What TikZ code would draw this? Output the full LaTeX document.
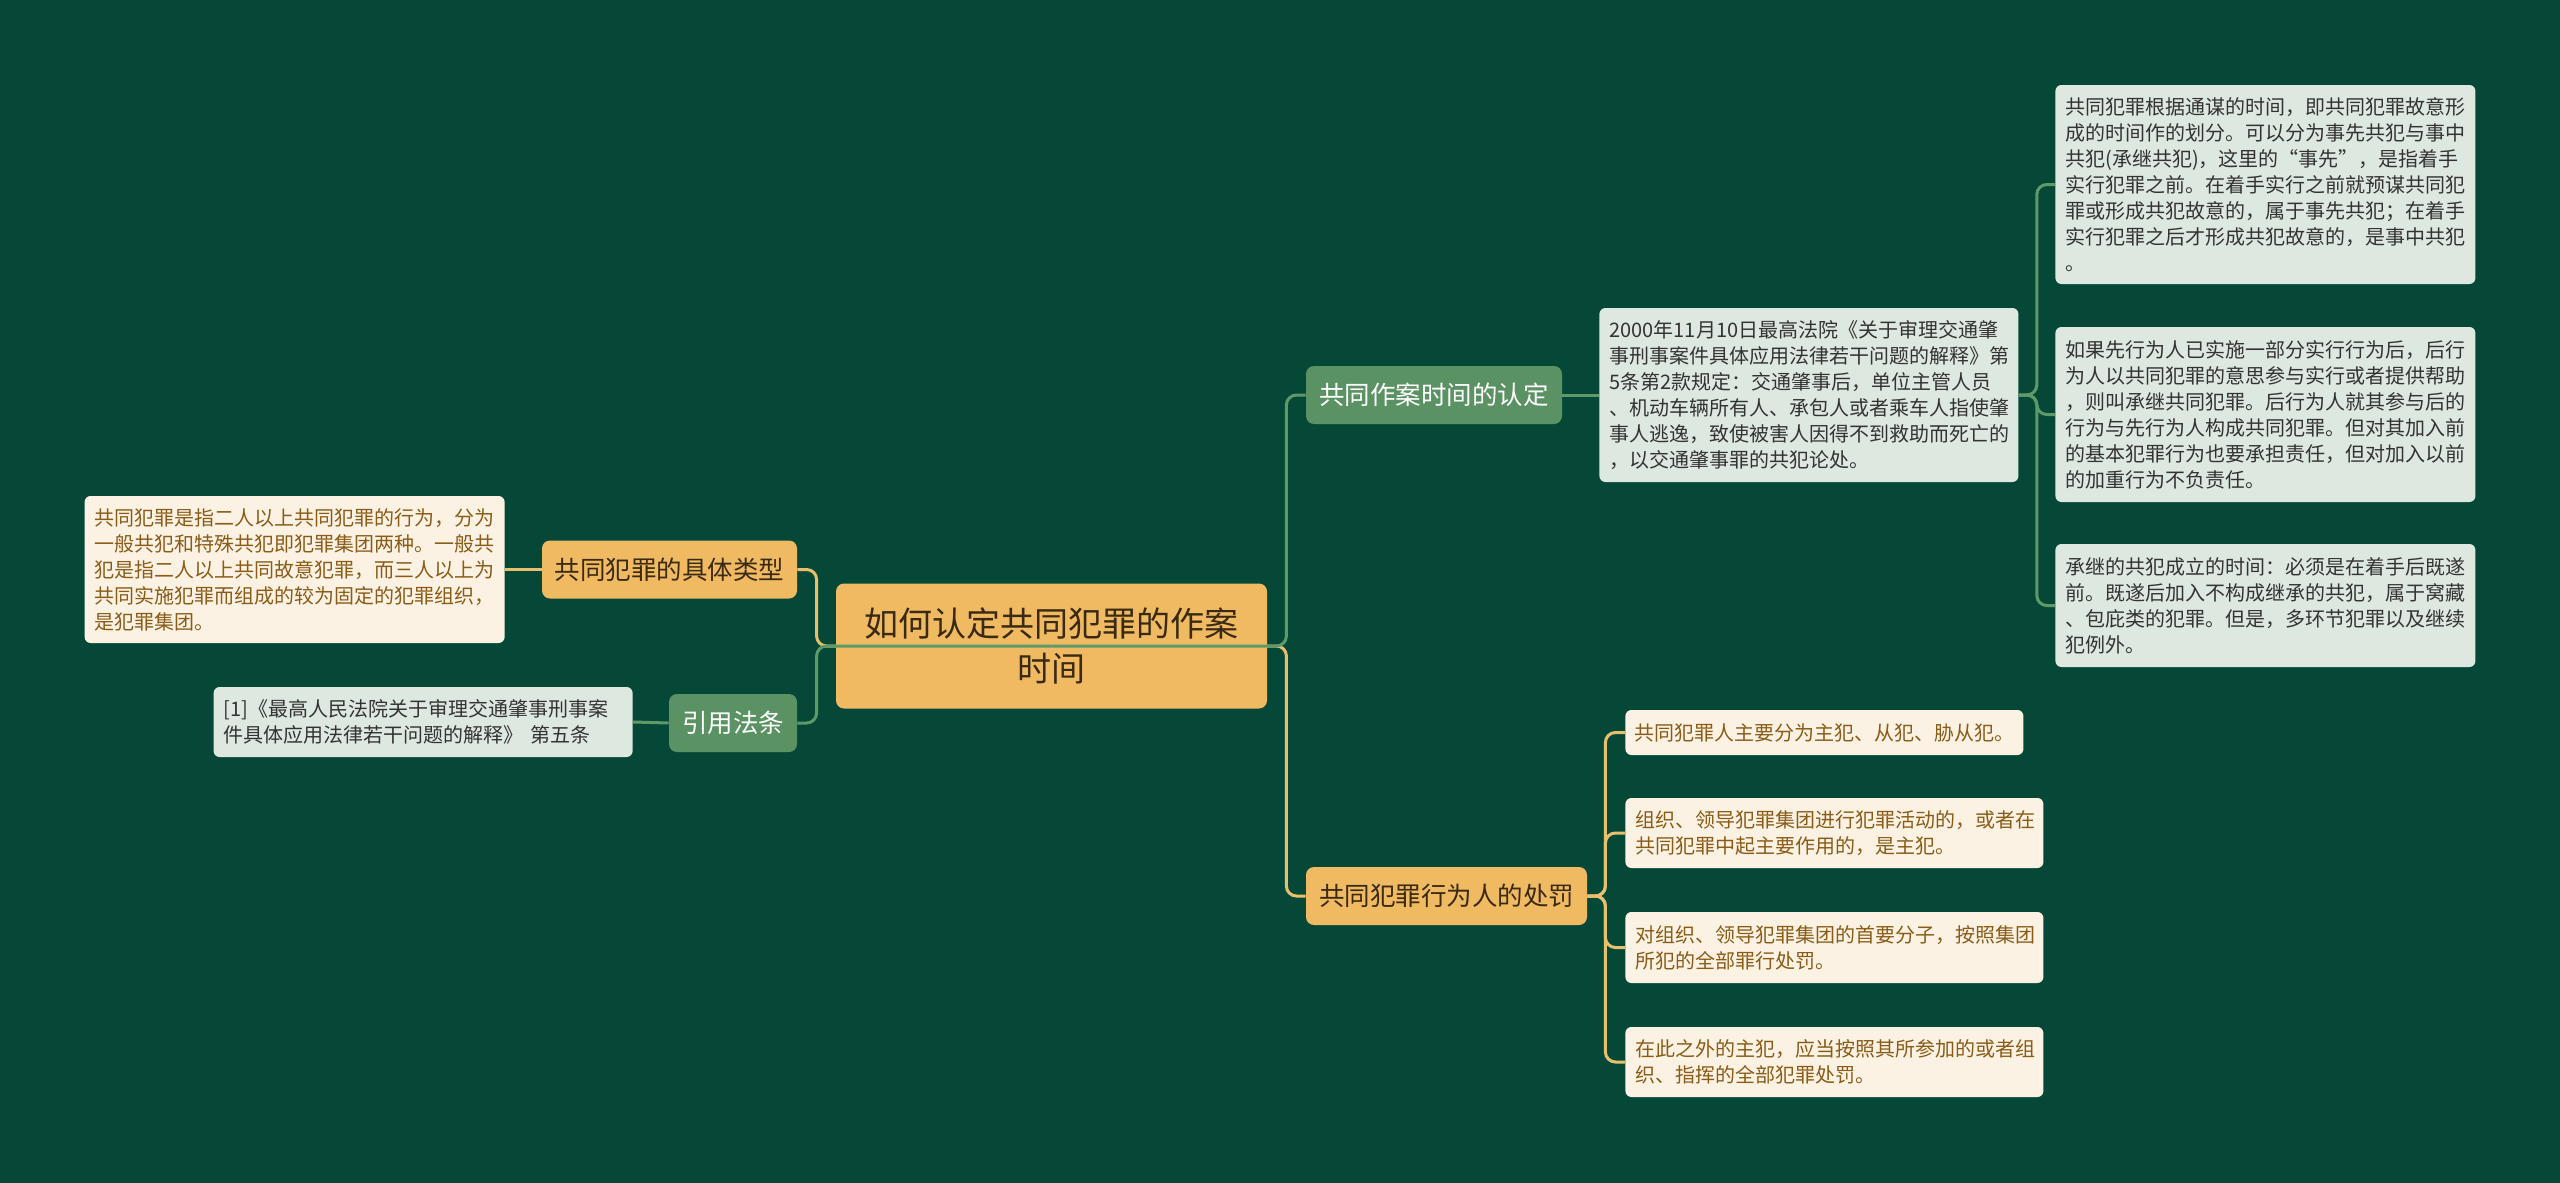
\documentclass[tikz,border=0pt]{standalone}
\usepackage{fontspec}
\setmainfont{Noto Sans CJK SC}
\usepackage{tikz}
\definecolor{bg}{HTML}{064838}
\definecolor{orangefill}{HTML}{F0BA62}
\definecolor{greenfill}{HTML}{5A9263}
\definecolor{palefill}{HTML}{DDE8E0}
\definecolor{creamfill}{HTML}{FCF2E3}
\definecolor{browntext}{HTML}{8A5C17}
\definecolor{darktext}{HTML}{3A2A12}
\definecolor{ylink}{HTML}{E6C06C}
\definecolor{glink}{HTML}{5E9A68}

\begin{document}
\begin{tikzpicture}[x=0.5pt,y=-0.5pt,
  box/.style={rounded corners=4pt,inner sep=0pt,align=center},
  rootbox/.style={box,fill=orangefill,text=darktext,minimum width=215.5pt,minimum height=62.5pt,font=\fontsize{17}{22.5}\selectfont},
  topicor/.style={box,fill=orangefill,text=darktext,minimum height=29pt,font=\fontsize{12.75}{15}\selectfont},
  topicgr/.style={box,fill=greenfill,text=white,minimum height=29pt,font=\fontsize{12.75}{15}\selectfont},
  leaf/.style={rounded corners=3pt,inner xsep=5pt,inner ysep=0pt,anchor=west,align=left,font=\fontsize{10}{13}\selectfont},
  leafpale/.style={leaf,fill=palefill,text=black!80},
  leafcream/.style={leaf,fill=creamfill,text=browntext},
  link/.style={line width=1.5pt,rounded corners=5pt}]
\fill[bg] (0,0) rectangle (2560,1183);
\useasboundingbox (0,0) rectangle (2560,1183);

% centre and main topics
\node[rootbox] (root) at (1051.5,646) {如何认定共同犯罪的作案\\时间};
\node[topicgr,minimum width=128pt] (ctime) at (1434,395) {共同作案时间的认定};
\node[topicor,minimum width=140.5pt] (punish) at (1446.5,896) {共同犯罪行为人的处罚};
\node[topicor,minimum width=127.5pt] (kind) at (669.5,569.5) {共同犯罪的具体类型};
\node[topicgr,minimum width=64pt] (cite) at (733,723) {引用法条};

% right side, time
\node[leafpale,text width=199.5pt,minimum height=87pt] (date) at (1599,395) {2000年11月10日最高法院《关于审理交通肇\\事刑事案件具体应用法律若干问题的解释》第\\5条第2款规定：交通肇事后，单位主管人员\\、机动车辆所有人、承包人或者乘车人指使肇\\事人逃逸，致使被害人因得不到救助而死亡的\\，以交通肇事罪的共犯论处。};
\node[leafpale,text width=200pt,minimum height=99.5pt] (la) at (2055,184.5) {共同犯罪根据通谋的时间，即共同犯罪故意形\\成的时间作的划分。可以分为事先共犯与事中\\共犯(承继共犯)，这里的“事先”，是指着手\\实行犯罪之前。在着手实行之前就预谋共同犯\\罪或形成共犯故意的，属于事先共犯；在着手\\实行犯罪之后才形成共犯故意的，是事中共犯\\。};
\node[leafpale,text width=200pt,minimum height=87.5pt] (lb) at (2055,414.5) {如果先行为人已实施一部分实行行为后，后行\\为人以共同犯罪的意思参与实行或者提供帮助\\，则叫承继共同犯罪。后行为人就其参与后的\\行为与先行为人构成共同犯罪。但对其加入前\\的基本犯罪行为也要承担责任，但对加入以前\\的加重行为不负责任。};
\node[leafpale,text width=200pt,minimum height=61.5pt] (lc) at (2055,605.5) {承继的共犯成立的时间：必须是在着手后既遂\\前。既遂后加入不构成继承的共犯，属于窝藏\\、包庇类的犯罪。但是，多环节犯罪以及继续\\犯例外。};

% right side, punishment
\node[leafcream,text width=190pt,inner xsep=4.5pt,minimum height=22.5pt] (pa) at (1625,732.5) {共同犯罪人主要分为主犯、从犯、胁从犯。};
\node[leafcream,text width=199pt,minimum height=35pt] (pb) at (1625,833) {组织、领导犯罪集团进行犯罪活动的，或者在\\共同犯罪中起主要作用的，是主犯。};
\node[leafcream,text width=199pt,minimum height=35.5pt] (pc) at (1625,947.5) {对组织、领导犯罪集团的首要分子，按照集团\\所犯的全部罪行处罚。};
\node[leafcream,text width=199pt,minimum height=35pt] (pd) at (1625,1062) {在此之外的主犯，应当按照其所参加的或者组\\织、指挥的全部犯罪处罚。};

% left side
\node[leafcream,anchor=east,text width=200pt,minimum height=73.5pt] (ka) at (505,569.5) {共同犯罪是指二人以上共同犯罪的行为，分为\\一般共犯和特殊共犯即犯罪集团两种。一般共\\犯是指二人以上共同故意犯罪，而三人以上为\\共同实施犯罪而组成的较为固定的犯罪组织，\\是犯罪集团。};
\node[leafpale,anchor=east,text width=199.5pt,minimum height=35pt] (kb) at (633,722) {[1]《最高人民法院关于审理交通肇事刑事案\\件具体应用法律若干问题的解释》\ 第五条};

% connectors
\draw[link,ylink] (root.center) -- (root.east) -- ++(19,0) |- (punish.west);
\draw[link,ylink] (root.center) -- (root.west) -- ++(-19,0) |- (kind.east);
\draw[link,glink] (root.center) -- (root.west) -- ++(-19,0) |- (cite.east);
\draw[link,glink] (root.center) -- (root.east) -- ++(19,0) |- (ctime.west);
\draw[link,glink] (ctime.east) -- (date.west);
\foreach \n in {la,lb,lc}
  \draw[link,glink] (date.east) -- ++(18,0) |- (\n.west);
\foreach \n in {pa,pb,pc,pd}
  \draw[link,ylink] (punish.east) -- ++(18,0) |- (\n.west);
\draw[link,ylink] (kind.west) -- (ka.east);
\draw[link,glink] (cite.west) -- (kb.east);
\end{tikzpicture}
\end{document}
